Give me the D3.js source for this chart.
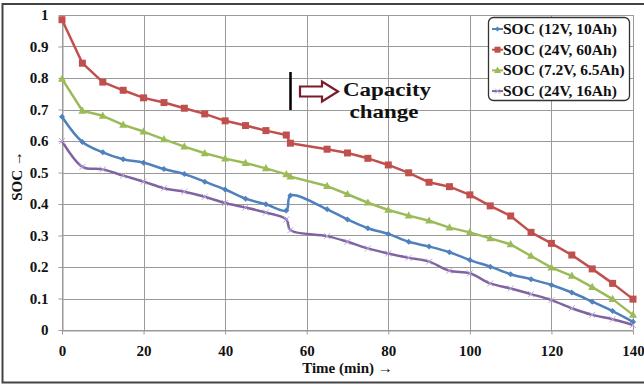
<!DOCTYPE html>
<html>
<head>
<meta charset="utf-8">
<script src="https://cdn.jsdelivr.net/npm/d3@7"></script>
<style>
  html, body { margin: 0; padding: 0; background: #fff; }
  svg { display: block; }
  text { font-family: "Liberation Serif", "Times New Roman", serif; font-weight: bold; fill: #111; }
</style>
</head>
<body>
<svg id="chart" width="644" height="385"></svg>
<script>
// Discharge time in minutes (the 56-min sample marks the capacity change)
const time = [0, 5, 10, 15, 20, 25, 30, 35, 40, 45, 50, 55, 56, 65, 70, 75, 80, 85, 90, 95, 100, 105, 110, 115, 120, 125, 130, 135, 140];

// State of charge per battery
const soc12V10Ah = [0.677, 0.597, 0.564, 0.542, 0.531, 0.511, 0.495, 0.471, 0.446, 0.417, 0.399, 0.379, 0.427, 0.383, 0.351, 0.323, 0.305, 0.280, 0.265, 0.247, 0.222, 0.201, 0.177, 0.161, 0.143, 0.119, 0.090, 0.060, 0.026];
const soc24V60Ah = [0.985, 0.847, 0.787, 0.761, 0.737, 0.722, 0.704, 0.686, 0.664, 0.649, 0.633, 0.619, 0.593, 0.574, 0.562, 0.545, 0.524, 0.499, 0.469, 0.455, 0.429, 0.394, 0.362, 0.310, 0.275, 0.238, 0.194, 0.148, 0.098];
const soc7V65Ah = [0.797, 0.696, 0.680, 0.651, 0.630, 0.605, 0.582, 0.561, 0.544, 0.530, 0.513, 0.494, 0.487, 0.457, 0.431, 0.404, 0.381, 0.363, 0.347, 0.325, 0.310, 0.291, 0.272, 0.235, 0.198, 0.172, 0.136, 0.098, 0.048];
const soc24V16Ah = [0.600, 0.518, 0.510, 0.490, 0.471, 0.450, 0.439, 0.423, 0.403, 0.389, 0.373, 0.351, 0.317, 0.298, 0.280, 0.259, 0.243, 0.229, 0.217, 0.188, 0.180, 0.148, 0.132, 0.114, 0.095, 0.069, 0.048, 0.034, 0.016];

const seriesNames = ["SOC (12V, 10Ah)", "SOC (24V, 60Ah)", "SOC (7.2V, 6.5Ah)", "SOC (24V, 16Ah)"];

// Axis ticks
const xTicks = [0, 20, 40, 60, 80, 100, 120, 140];
const xTickLabels = ["0", "20", "40", "60", "80", "100", "120", "140"];
const yTicks = [0, 0.1, 0.2, 0.3, 0.4, 0.5, 0.6, 0.7, 0.8, 0.9, 1];
const yTickLabels = ["0", "0.1", "0.2", "0.3", "0.4", "0.5", "0.6", "0.7", "0.8", "0.9", "1"];

const xTitle = "Time (min) \u2192";
const yTitle = "SOC \u2192";
const noteLines = ["Capacity", "change"];

const series = [
  { name: seriesNames[0], values: soc12V10Ah, color: "#4F81BD", marker: "diamond", smooth: true },
  { name: seriesNames[1], values: soc24V60Ah, color: "#C0504D", marker: "square", smooth: false },
  { name: seriesNames[2], values: soc7V65Ah, color: "#9BBB59", marker: "triangle", smooth: false },
  { name: seriesNames[3], values: soc24V16Ah, color: "#8064A2", marker: "cross", smooth: true }
];

const svg = d3.select("#chart");

// Outer frame
svg.append("rect")
  .attr("x", 2.5).attr("y", 4).attr("width", 660).attr("height", 378.5)
  .attr("fill", "none").attr("stroke", "#444").attr("stroke-width", 2);

const plot = { left: 62, right: 633, top: 15, bottom: 330 };
const x = d3.scaleLinear().domain([0, 140]).range([plot.left, plot.right]);
const y = d3.scaleLinear().domain([0, 1]).range([plot.bottom, plot.top]);

// Gridlines
const grid = svg.append("g").attr("stroke", "#9a9a9a").attr("stroke-width", 1);
grid.selectAll("line.h").data(yTicks).join("line")
  .attr("x1", plot.left).attr("x2", plot.right)
  .attr("y1", d => Math.round(y(d)) + 0.5).attr("y2", d => Math.round(y(d)) + 0.5);
grid.selectAll("line.v").data(xTicks).join("line")
  .attr("y1", plot.top).attr("y2", plot.bottom)
  .attr("x1", d => Math.round(x(d)) + 0.5).attr("x2", d => Math.round(x(d)) + 0.5);

// Axes
const yAxis = d3.axisLeft(y).tickValues(yTicks)
  .tickFormat((d, i) => yTickLabels[i]).tickSizeInner(4).tickSizeOuter(0).tickPadding(10);
const gy = svg.append("g").attr("transform", `translate(${plot.left + 0.5},0)`).call(yAxis);
gy.select(".domain").attr("stroke", "#9a9a9a");
gy.selectAll(".tick line").attr("stroke", "#9a9a9a");
gy.selectAll(".tick text").attr("font-size", 15).attr("font-family", null).attr("fill", "#111").attr("dy", "0.3em");

const xAxis = d3.axisBottom(x).tickValues(xTicks)
  .tickFormat((d, i) => xTickLabels[i]).tickSizeInner(4).tickSizeOuter(0).tickPadding(11);
const gx = svg.append("g").attr("transform", `translate(0,${plot.bottom + 0.5})`).call(xAxis);
gx.select(".domain").attr("stroke", "#9a9a9a");
gx.selectAll(".tick line").attr("stroke", "#9a9a9a");
gx.selectAll(".tick text").attr("font-size", 15).attr("font-family", null).attr("fill", "#111");

// Axis titles
svg.append("text").attr("x", (plot.left + plot.right) / 2).attr("y", 373)
  .attr("text-anchor", "middle").attr("font-size", 15).text(xTitle);
svg.append("text").attr("transform", "translate(22,176) rotate(-90)")
  .attr("text-anchor", "middle").attr("font-size", 15).text(yTitle);

// Marker shapes
function drawMarker(g, type, color, cx, cy, s) {
  if (type === "square") {
    g.append("rect").attr("x", cx - s / 2).attr("y", cy - s / 2).attr("width", s).attr("height", s).attr("fill", color);
  } else if (type === "triangle") {
    const h = s * 0.9;
    g.append("path").attr("d", `M${cx},${cy - h * 0.6}L${cx + s / 2},${cy + h * 0.4}L${cx - s / 2},${cy + h * 0.4}Z`).attr("fill", color);
  } else if (type === "diamond") {
    const r = s / 2;
    g.append("path").attr("d", `M${cx},${cy - r}L${cx + r},${cy}L${cx},${cy + r}L${cx - r},${cy}Z`).attr("fill", color);
  } else if (type === "cross") {
    const r = s / 2;
    g.append("path").attr("d", `M${cx - r},${cy - r}L${cx + r},${cy + r}M${cx - r},${cy + r}L${cx + r},${cy - r}`)
      .attr("stroke", "#B9A5D8").attr("stroke-width", 1).attr("fill", "none");
  }
}

const markerSize = { square: 7, triangle: 8, diamond: 6, cross: 6 };

// Lines and markers
series.forEach(s => {
  const pts = time.map((t, i) => [t, s.values[i]]);
  const line = d3.line()
    .x(d => x(d[0])).y(d => y(d[1]))
    .curve(s.smooth ? d3.curveCatmullRom.alpha(0.5) : d3.curveLinear);
  svg.append("path").datum(pts)
    .attr("d", line).attr("fill", "none")
    .attr("stroke", s.color).attr("stroke-width", 2.5).attr("stroke-linejoin", "round");
  const mg = svg.append("g");
  pts.forEach(p => drawMarker(mg, s.marker, s.color, x(p[0]), y(p[1]), markerSize[s.marker]));
});

// Capacity-change annotation
svg.append("line").attr("x1", 290.5).attr("x2", 290.5).attr("y1", 72).attr("y2", 110)
  .attr("stroke", "#000").attr("stroke-width", 2.5);
svg.append("path")
  .attr("d", "M300,86.5L322,86.5L322,81.5L338,91.5L322,101.5L322,96.5L300,96.5Z")
  .attr("fill", "#fff").attr("stroke", "#7A1C28").attr("stroke-width", 2.2).attr("stroke-linejoin", "miter");
// Slightly condensed vertically so the two lines sit close like a tight text box
svg.append("text").attr("transform", "translate(343,96) scale(1,0.8)")
  .attr("font-size", 23).text(noteLines[0]);
svg.append("text").attr("transform", "translate(384,117.5) scale(1,0.8)")
  .attr("font-size", 23).attr("text-anchor", "middle").text(noteLines[1]);

// Legend
const legend = svg.append("g");
legend.append("rect").attr("x", 488.5).attr("y", 17.5).attr("width", 141).attr("height", 83).attr("rx", 5)
  .attr("fill", "#fff").attr("stroke", "#333").attr("stroke-width", 1.3);
series.forEach((s, i) => {
  const cy = 29 + i * 20.7;
  legend.append("line").attr("x1", 492).attr("x2", 503).attr("y1", cy).attr("y2", cy)
    .attr("stroke", s.color).attr("stroke-width", 2);
  drawMarker(legend, s.marker, s.color, 497.5, cy, markerSize[s.marker] - 1);
  legend.append("text").attr("x", 503).attr("y", cy + 5).attr("font-size", 15.5).text(s.name);
});
</script>
</body>
</html>
